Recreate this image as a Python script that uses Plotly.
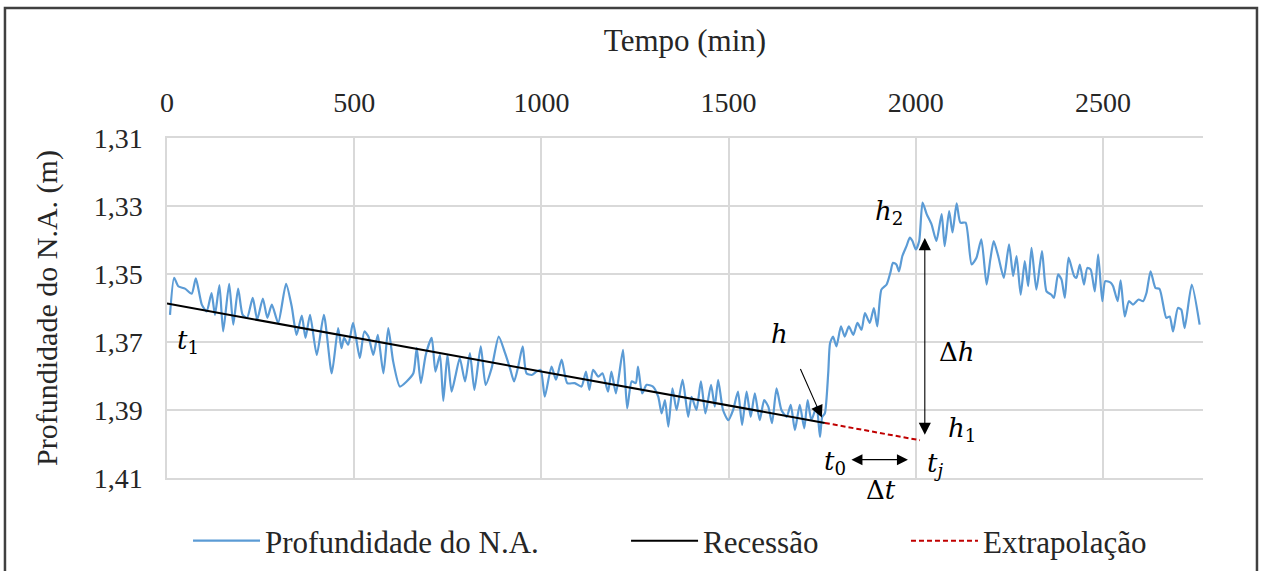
import plotly.graph_objects as go

# ---------------- data ----------------
tempo_min = [8, 19, 30, 48, 66, 77, 93, 106, 119, 128, 140, 150, 166, 177, 190, 202, 214, 229, 241, 256,
             268, 280, 297, 318, 333, 346, 360, 370, 382, 400, 419, 440, 457, 466, 473, 484, 497, 515, 527, 538,
             551, 563, 578, 591, 604, 622, 640, 658, 667, 678, 691, 707, 717, 729, 738, 749, 760, 771, 782, 796,
             809, 821, 838, 851, 867, 886, 903, 916, 927, 938, 950, 960, 974, 987, 998, 1009, 1027, 1039, 1054, 1069,
             1089, 1107, 1119, 1128, 1138, 1152, 1163, 1178, 1187, 1199, 1218, 1229, 1241, 1252, 1258, 1269, 1281, 1298, 1312, 1321,
             1330, 1339, 1350, 1361, 1377, 1392, 1401, 1414, 1426, 1438, 1453, 1463, 1472, 1485, 1499, 1512, 1525, 1536, 1548, 1559,
             1570, 1583, 1595, 1606, 1616, 1628, 1641, 1655, 1666, 1677, 1690, 1702, 1711, 1721, 1735, 1744, 1750, 1757, 1766, 1771,
             1779, 1788, 1800, 1810, 1821, 1833, 1844, 1855, 1864, 1877, 1888, 1897, 1908, 1922, 1932, 1939, 1948, 1955, 1964, 1975,
             1984, 1991, 2000, 2009, 2018, 2029, 2042, 2055, 2069, 2077, 2089, 2098, 2109, 2119, 2133, 2149, 2162, 2175, 2189, 2199,
             2208, 2220, 2235, 2249, 2260, 2269, 2280, 2291, 2300, 2309, 2322, 2337, 2349, 2362, 2369, 2380, 2389, 2398, 2408, 2423,
             2429, 2438, 2449, 2458, 2467, 2478, 2487, 2498, 2506, 2521, 2527, 2539, 2547, 2558, 2569, 2580, 2595, 2607, 2616, 2627,
             2640, 2651, 2669, 2678, 2687, 2700, 2709, 2718, 2737, 2758]
profundidade_m = [1.3620, 1.3511, 1.3536, 1.3543, 1.3558, 1.3513, 1.3590, 1.3610, 1.3556, 1.3620, 1.3533, 1.3669, 1.3529, 1.3649, 1.3543, 1.3620, 1.3629, 1.3570, 1.3634, 1.3572,
                  1.3629, 1.3590, 1.3644, 1.3529, 1.3595, 1.3679, 1.3622, 1.3688, 1.3620, 1.3738, 1.3620, 1.3792, 1.3659, 1.3718, 1.3688, 1.3708, 1.3644, 1.3747, 1.3669, 1.3684,
                  1.3738, 1.3679, 1.3792, 1.3659, 1.3757, 1.3831, 1.3816, 1.3792, 1.3718, 1.3821, 1.3738, 1.3688, 1.3787, 1.3738, 1.3873, 1.3738, 1.3846, 1.3797, 1.3747, 1.3816,
                  1.3733, 1.3841, 1.3713, 1.3826, 1.3777, 1.3684, 1.3733, 1.3777, 1.3816, 1.3772, 1.3713, 1.3792, 1.3797, 1.3787, 1.3782, 1.3861, 1.3772, 1.3811, 1.3752, 1.3821,
                  1.3821, 1.3831, 1.3787, 1.3841, 1.3782, 1.3802, 1.3792, 1.3846, 1.3787, 1.3851, 1.3723, 1.3895, 1.3816, 1.3821, 1.3772, 1.3851, 1.3826, 1.3831, 1.3861, 1.3910,
                  1.3871, 1.3949, 1.3836, 1.3900, 1.3811, 1.3920, 1.3861, 1.3900, 1.3816, 1.3910, 1.3826, 1.3890, 1.3811, 1.3900, 1.3930, 1.3900, 1.3846, 1.3944, 1.3846, 1.3920,
                  1.3851, 1.3930, 1.3871, 1.3890, 1.3939, 1.3836, 1.3900, 1.3920, 1.3885, 1.3959, 1.3885, 1.3954, 1.3871, 1.3930, 1.3890, 1.3979, 1.3920, 1.3910, 1.3792, 1.3703,
                  1.3684, 1.3713, 1.3654, 1.3684, 1.3654, 1.3679, 1.3644, 1.3664, 1.3615, 1.3644, 1.3600, 1.3654, 1.3546, 1.3531, 1.3496, 1.3467, 1.3472, 1.3492, 1.3447, 1.3418,
                  1.3393, 1.3403, 1.3428, 1.3403, 1.3290, 1.3324, 1.3354, 1.3403, 1.3324, 1.3418, 1.3315, 1.3378, 1.3292, 1.3349, 1.3349, 1.3472, 1.3452, 1.3398, 1.3531, 1.3457,
                  1.3403, 1.3447, 1.3511, 1.3413, 1.3506, 1.3447, 1.3561, 1.3462, 1.3536, 1.3423, 1.3546, 1.3433, 1.3551, 1.3561, 1.3570, 1.3501, 1.3516, 1.3570, 1.3452, 1.3506,
                  1.3511, 1.3472, 1.3531, 1.3482, 1.3487, 1.3551, 1.3442, 1.3580, 1.3521, 1.3526, 1.3536, 1.3580, 1.3519, 1.3625, 1.3580, 1.3590, 1.3575, 1.3580, 1.3556, 1.3492,
                  1.3541, 1.3544, 1.3629, 1.3625, 1.3669, 1.3600, 1.3605, 1.3659, 1.3531, 1.3649]

recessao_t = [0, 1757]
recessao_h = [1.3587, 1.3938]
extrap_t = [1757, 2011]
extrap_h = [1.3938, 1.3989]

x_ticks = [0, 500, 1000, 1500, 2000, 2500]
y_ticks = [1.31, 1.33, 1.35, 1.37, 1.39, 1.41]
y_ticktext = ["1,31", "1,33", "1,35", "1,37", "1,39", "1,41"]

# annotation labels inside the plot: (text, t, h)
labels = [
    ("<i>t</i><sub>1</sub>", 56, 1.3699),
    ("<i>h</i>", 1637, 1.3675),
    ("<i>h</i><sub>2</sub>", 1928, 1.3319),
    ("Δ<i>h</i>", 2109, 1.3728),
    ("<i>h</i><sub>1</sub>", 2123, 1.3958),
    ("<i>t</i><sub>0</sub>", 1784, 1.4055),
    ("<i>t</i><sub><i>j</i></sub>", 2051, 1.4061),
]
# label below the plot area: (text, t, paper y)
label_below = ("Δ<i>t</i>", 1907, -0.036)

SERIF = "Liberation Serif, Times New Roman, serif"
MATH = "DejaVu Serif, serif"
BLUE = "#5b9bd5"
GRID = "#d9d9d9"
TXT = "#262626"

fig = go.Figure()
fig.add_trace(go.Scatter(x=tempo_min, y=profundidade_m, mode="lines", name="Profundidade do N.A.",
                         line=dict(color=BLUE, width=2.2, shape="spline", smoothing=0.6), legend="legend"))
fig.add_trace(go.Scatter(x=recessao_t, y=recessao_h, mode="lines", name="Recessão",
                         line=dict(color="black", width=2), legend="legend2"))
fig.add_trace(go.Scatter(x=extrap_t, y=extrap_h, mode="lines", name="Extrapolação",
                         line=dict(color="#c00000", width=2, dash="5px,3px"), legend="legend3"))

for txt, tx, hy in labels:
    fig.add_annotation(x=tx, y=hy, xref="x", yref="y", text=txt, showarrow=False,
                       font=dict(family=MATH, size=26, color="black"))
fig.add_annotation(x=label_below[1], y=label_below[2], xref="x", yref="paper", text=label_below[0],
                   showarrow=False, yanchor="middle", font=dict(family=MATH, size=26, color="black"))

# arrows
fig.add_annotation(x=1749, y=1.3922, ax=1690, ay=1.3775, xref="x", yref="y", axref="x", ayref="y",
                   text="", showarrow=True, arrowhead=2, arrowsize=2.2, arrowwidth=1.1, arrowcolor="black")
fig.add_annotation(x=2024, y=1.3973, ax=2024, ay=1.3390, xref="x", yref="y", axref="x", ayref="y",
                   text="", showarrow=True, arrowhead=2, startarrowhead=2, arrowside="end+start",
                   arrowsize=2.2, startarrowsize=2.2, arrowwidth=1.1, arrowcolor="black")
fig.add_annotation(x=1979, y=1.4046, ax=1824, ay=1.4046, xref="x", yref="y", axref="x", ayref="y",
                   text="", showarrow=True, arrowhead=2, startarrowhead=2, arrowside="end+start",
                   arrowsize=2.0, startarrowsize=2.0, arrowwidth=1.1, arrowcolor="black")

# outer frame of the picture
fig.add_shape(type="rect", xref="paper", yref="paper", x0=-0.1564, x1=1.0521, y0=-0.35, y1=1.3824,
              line=dict(color="#404040", width=2.5), fillcolor="rgba(0,0,0,0)", layer="above")

legend_common = dict(orientation="h", yref="container", y=0.0525, yanchor="middle", xanchor="left",
                     font=dict(family=SERIF, size=31, color=TXT), itemwidth=67,
                     bgcolor="rgba(0,0,0,0)")

fig.update_layout(
    width=1261, height=571,
    margin=dict(l=167, r=58, t=138, b=93, pad=0),
    paper_bgcolor="white", plot_bgcolor="white",
    font=dict(family=SERIF, size=28, color=TXT),
    showlegend=True,
    legend=dict(x=0.0203, **legend_common),
    legend2=dict(x=0.4431, **legend_common),
    legend3=dict(x=0.7133, **legend_common),
    xaxis=dict(side="top", range=[0, 2767], tickvals=x_ticks, showgrid=True, gridcolor=GRID, gridwidth=1.5,
               zeroline=False, showline=True, linecolor=GRID, linewidth=1.5, mirror=True, ticks="",
               tickfont=dict(size=28), ticklabelstandoff=13, automargin=False,
               title=dict(text="Tempo (min)", font=dict(size=31), standoff=26)),
    yaxis=dict(range=[1.41, 1.31], tickvals=y_ticks, ticktext=y_ticktext, showgrid=True, gridcolor=GRID,
               gridwidth=1.5, zeroline=False, showline=True, linecolor=GRID, linewidth=1.5, ticks="",
               tickfont=dict(size=28), ticklabelstandoff=17, automargin=False,
               title=dict(text="Profundidade do N.A. (m)", font=dict(size=30), standoff=27)),
)

fig.write_html("out.html", config={"displayModeBar": False},
               post_script="document.body.style.margin='0';document.body.style.overflow='hidden';")
